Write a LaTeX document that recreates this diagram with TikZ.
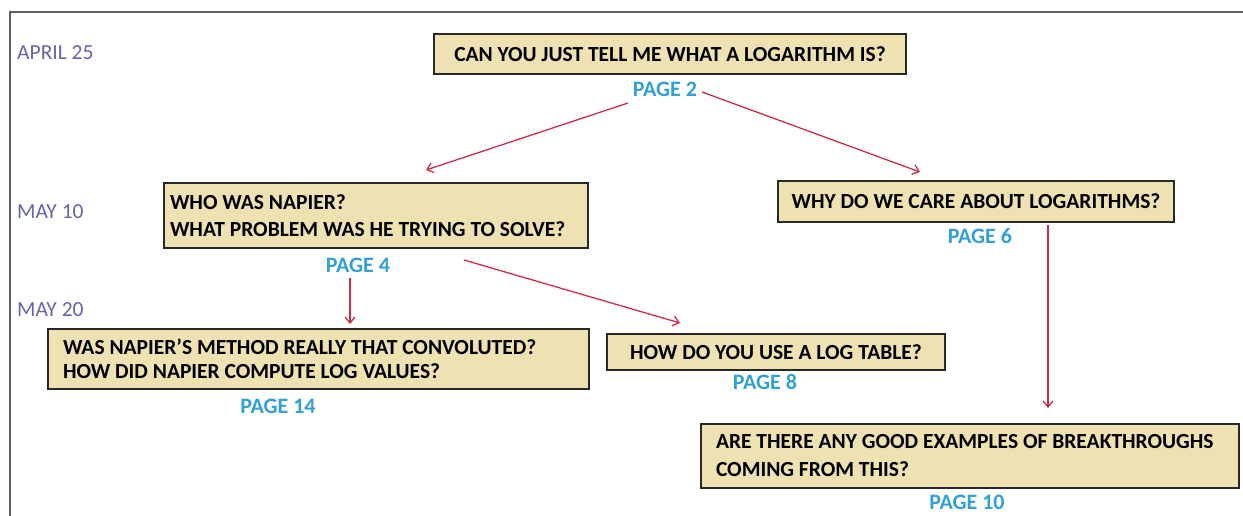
\documentclass[tikz,border=0pt]{standalone}
\usepackage{fontspec}
\setmainfont{Carlito}
\usetikzlibrary{arrows.meta}
\definecolor{boxfill}{RGB}{238,226,178}
\definecolor{boxline}{RGB}{40,40,40}
\definecolor{datecol}{RGB}{100,100,170}
\definecolor{pagecol}{RGB}{50,160,215}
\definecolor{arrcol}{RGB}{205,45,75}
\definecolor{framecol}{RGB}{95,95,95}
\begin{document}
\begin{tikzpicture}[x=1pt,y=-1pt,
  qbox/.style={draw=boxline,fill=boxfill,line width=2pt,rectangle,anchor=north west,
    inner xsep=0pt,inner ysep=0pt,font=\fontsize{21.5}{27}\selectfont\bfseries},
  lbox/.style={qbox,align=flush left},
  cbox/.style={qbox,align=center},
  datelbl/.style={anchor=west,inner sep=0pt,text=datecol,font=\fontsize{21.5}{24}\selectfont},
  pagelbl/.style={inner sep=0pt,text=pagecol,font=\fontsize{22}{24}\selectfont\bfseries},
  conn/.style={draw=arrcol,line width=1.3pt,-{Straight Barb[length=6pt,width=10pt,line width=1.3pt]}},
  frameline/.style={draw=framecol,line width=2.5pt}
]
\useasboundingbox (0,0) rectangle (1243,516);
\draw[frameline] (10,516) -- (10,12) -- (1243,12);

% date labels
\node[datelbl] (d1) at (17,53) {APRIL 25};
\node[datelbl] (d2) at (17,212) {MAY 10};
\node[datelbl] (d3) at (17,310) {MAY 20};

% boxes
\node[cbox,minimum width=472pt,minimum height=40pt] (top) at (433,33)
  {CAN YOU JUST TELL ME WHAT A LOGARITHM IS?};
\node[lbox,minimum width=424pt,minimum height=65pt,text width=412pt] (napier) at (163,182)
  {WHO WAS NAPIER?\\WHAT PROBLEM WAS HE TRYING TO SOLVE?};
\node[cbox,minimum width=396pt,minimum height=41pt] (why) at (777,180)
  {WHY DO WE CARE ABOUT LOGARITHMS?};
\node[lbox,minimum width=541pt,minimum height=60pt,text width=511pt,
  font=\fontsize{21.5}{24}\selectfont\bfseries] (conv) at (47,328)
  {WAS NAPIER'S METHOD REALLY THAT CONVOLUTED?\\HOW DID NAPIER COMPUTE LOG VALUES?};
\node[cbox,minimum width=338pt,minimum height=36pt] (logt) at (606,333)
  {HOW DO YOU USE A LOG TABLE?};
\node[lbox,minimum width=538pt,minimum height=64pt,text width=508pt,
  font=\fontsize{21.5}{28}\selectfont\bfseries] (brk) at (700,423)
  {ARE THERE ANY GOOD EXAMPLES OF BREAKTHROUGHS\\COMING FROM THIS?};

% page labels
\node[pagelbl] (p2) at (665,89) {PAGE 2};
\node[pagelbl] (p4) at (358,265) {PAGE 4};
\node[pagelbl] (p6) at (980,236) {PAGE 6};
\node[pagelbl] (p14) at (278,406) {PAGE 14};
\node[pagelbl] (p8) at (765,382) {PAGE 8};
\node[pagelbl] (p10) at (967,502) {PAGE 10};

% connectors
\draw[conn] ([shift={(-37,14)}]p2.center) -- ([shift={(50,-12)}]napier.north);
\draw[conn] ([shift={(37,3)}]p2.center) -- ([shift={(143,-8)}]why.north west);
\draw[conn] ([shift={(-8,13)}]p4.center) -- ([shift={(303,-4)}]conv.north west);
\draw[conn] ([shift={(-125,11)}]napier.south east) -- ([shift={(74,-10)}]logt.north west);
\draw[conn] ([shift={(271,2)}]why.south west) -- ([shift={(348,-15)}]brk.north west);
\end{tikzpicture}
\end{document}
